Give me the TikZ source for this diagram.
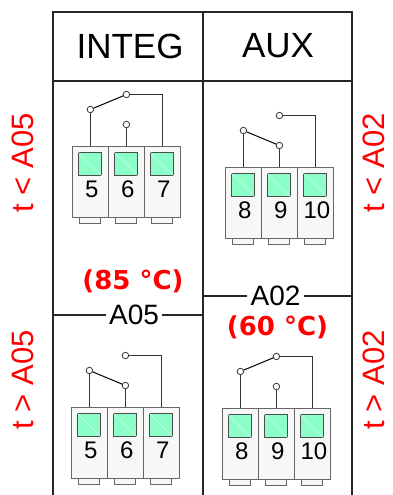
\documentclass[tikz,border=0pt]{standalone}
\usepackage{fontspec}
\setmainfont{Liberation Sans}
\newfontfamily\dejavu{DejaVu Sans}
\usepackage{tikz}
\usetikzlibrary{calc}

% Bloque de tres bornes: nombre, esquina (x,y), numeros, contacto cerrado (a/b)
\newcommand{\bornes}[7]{%
  \foreach \k/\cifra in {0/#4,1/#5,2/#6} {
    \node[pestana] (#1\k p) at (#2+\k*36+18,#3+71) {};
    \node[celda] (#1\k) at (#2+\k*36,#3) {};
    \node[verde] (#1\k v) at ($(#1\k.north west)+(6pt,-6pt)$) {};
    \draw[diagonal] (#1\k v.north west) -- (#1\k v.south east);
    \node[numero] (#1\k n) at ($(#1\k.north)+(1.5pt,-43pt)$) {\cifra};
  }
  \node[contacto] (#1c) at ($(#10.north)+(0,36.5pt)$) {};
  \node[contacto] (#1b) at ($(#11.north)+(0,21.5pt)$) {};
  \node[contacto] (#1a) at ($(#11.north)+(0,51.5pt)$) {};
  \draw[cable] (#10.north) -- (#1c);
  \draw[cable] (#11.north) -- (#1b);
  \draw[cable] (#1a) -| (#12.north);
  \draw[palanca] (#1c) -- (#1#7);
}

\begin{document}
\begin{tikzpicture}[x=1pt,y=-1pt,
    linea/.style={draw=black!85, line width=1.2pt},
    titulo/.style={font=\fontsize{35}{40}\selectfont, inner sep=0pt},
    limite/.style={font=\fontsize{28}{32}\selectfont, inner sep=3pt},
    temp/.style={font=\dejavu\bfseries\fontsize{26}{30}\selectfont, text=red, inner sep=0pt},
    lado/.style={font=\fontsize{31}{34}\selectfont, text=red, rotate=90, inner sep=0pt},
    celda/.style={draw=black!60, fill=black!3, minimum width=36pt, minimum height=71pt,
      inner sep=0pt, anchor=north west, line width=0.8pt},
    pestana/.style={draw=black!60, fill=black!3, minimum width=21pt, minimum height=5.5pt,
      inner sep=0pt, anchor=north, line width=0.8pt},
    verde/.style={draw=black!70, fill=verdeborne, minimum size=23pt, inner sep=0pt,
      anchor=north west, line width=0.8pt},
    diagonal/.style={draw=white!55!verdeborne, line width=0.6pt},
    numero/.style={font=\fontsize{24}{28}\selectfont, inner sep=0pt},
    contacto/.style={circle, draw=black!80, fill=white, minimum size=6.5pt, inner sep=0pt,
      line width=0.8pt},
    cable/.style={draw=black!80, line width=0.9pt},
    palanca/.style={draw=black, line width=1pt}]

    % Verde de las bornes
    \definecolor{verdeborne}{RGB}{140,255,200}
    \useasboundingbox (0,0) rectangle (392,495);

    % Marco de la tabla
    \draw[linea] (53,495) -- (53,12) -- (352,12) -- (352,495);
    \draw[linea] (203,12) -- (203,495);
    \draw[linea] (53,81) -- (352,81);

    % Encabezados
    \node[titulo] (integ) at (130,46) {INTEG};
    \node[titulo] (aux) at (278,46) {AUX};

    % Limite A05
    \coordinate (a05izq) at (53,315);
    \coordinate (a05der) at (203,315);
    \node[limite] (a05) at (134,315) {A05};
    \draw[linea] (a05izq) -- (a05) -- (a05der);

    % Limite A02
    \coordinate (a02izq) at (203,296);
    \coordinate (a02der) at (352,296);
    \node[limite] (a02) at (275.5,296) {A02};
    \draw[linea] (a02izq) -- (a02) -- (a02der);

    % Temperaturas
    \node[temp] (t85) at (133,281) {(85 °C)};
    \node[temp] (t60) at (277.5,327) {(60 °C)};

    % Condiciones a los lados
    \node[lado] (menor05) at (23,163) {t < A05};
    \node[lado] (mayor05) at (23,380) {t > A05};
    \node[lado] (menor02) at (374,163) {t < A02};
    \node[lado] (mayor02) at (374,380) {t > A02};

    % Bornes INTEG
    \bornes{ia}{72}{146}{5}{6}{7}{a}
    \bornes{ib}{71}{407}{5}{6}{7}{b}

    % Bornes AUX
    \bornes{xa}{225}{167}{8}{9}{10}{b}
    \bornes{xb}{222}{408}{8}{9}{10}{a}
  \end{tikzpicture}
\end{document}
